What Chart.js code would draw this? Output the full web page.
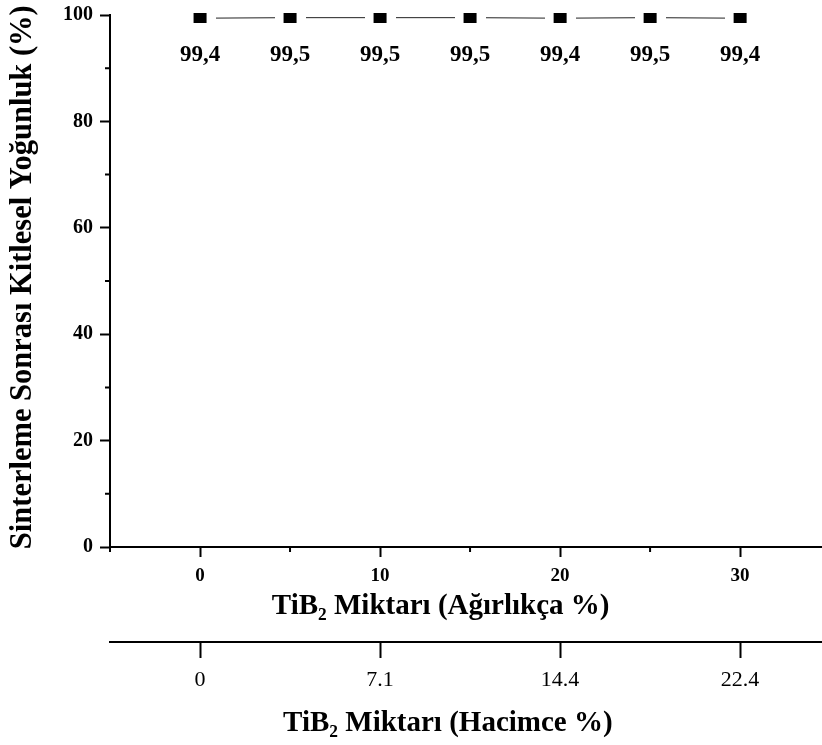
<!DOCTYPE html>
<html>
<head>
<meta charset="utf-8">
<script src="https://cdn.jsdelivr.net/npm/chart.js@4.4.1/dist/chart.umd.min.js"></script>
<style>
  html, body { margin: 0; padding: 0; background: #fff; }
  #wrap { width: 822px; height: 745px; }
</style>
</head>
<body>
<div id="wrap"><canvas id="chart" width="822" height="745"></canvas></div>
<script>
'use strict';
// data
var weightPercent = [0, 5, 10, 15, 20, 25, 30];
var density = [99.4, 99.5, 99.5, 99.5, 99.4, 99.5, 99.4];
var weightTicks = [0, 10, 20, 30];
var volumeTickLabels = ['0', '7.1', '14.4', '22.4'];
var xMinorTicks = [-5, 5, 15, 25];
var yMinorTicks = [10, 30, 50, 70, 90];

var serif = "'Liberation Serif', 'Times New Roman', serif";

// square marker with white margin so the line stops short of it
function makeMarker() {
  var c = document.createElement('canvas');
  c.width = 31;
  c.height = 10;
  var g = c.getContext('2d');
  g.fillStyle = '#fff';
  g.fillRect(0, 0, 31, 10);
  g.fillStyle = '#000';
  g.fillRect(9, 0, 13, 10);
  return c;
}

// minor tick marks (shorter than the labelled ones)
var minorTicks = {
  id: 'minorTicks',
  afterDraw: function(chart) {
    var ctx = chart.ctx;
    var xs = chart.scales.x, ys = chart.scales.y;
    ctx.save();
    ctx.strokeStyle = '#000';
    ctx.lineWidth = 2;
    ctx.beginPath();
    xMinorTicks.forEach(function(v) {
      var px = xs.getPixelForValue(v);
      ctx.moveTo(px, xs.top);
      ctx.lineTo(px, xs.top + 5);
    });
    yMinorTicks.forEach(function(v) {
      var py = ys.getPixelForValue(v);
      ctx.moveTo(ys.right, py);
      ctx.lineTo(ys.right - 5, py);
    });
    ctx.stroke();
    ctx.restore();
  }
};

// value labels under each marker, written with a decimal comma
var valueLabels = {
  id: 'valueLabels',
  afterDatasetsDraw: function(chart) {
    var ctx = chart.ctx;
    var meta = chart.getDatasetMeta(0);
    ctx.save();
    ctx.font = 'bold 23px ' + serif;
    ctx.fillStyle = '#000';
    ctx.textAlign = 'center';
    ctx.textBaseline = 'middle';
    meta.data.forEach(function(pt, i) {
      var txt = density[i].toFixed(1).replace('.', ',');
      ctx.fillText(txt, pt.x, pt.y + 37);
    });
    ctx.restore();
  }
};

function fixX(height) {
  return function(s) {
    s.height = height;
    s.paddingLeft = 0;
    s.paddingRight = 0;
  };
}

var ctx = document.getElementById('chart').getContext('2d');
var chart = new Chart(ctx, {
  type: 'line',
  data: {
    datasets: [{
      data: weightPercent.map(function(w, i) { return {x: w, y: density[i]}; }),
      borderColor: '#222',
      borderWidth: 1,
      pointStyle: makeMarker(),
      pointRadius: 6,
      pointHoverRadius: 6,
      clip: false,
      fill: false
    }]
  },
  options: {
    responsive: false,
    animation: false,
    events: [],
    layout: { autoPadding: false, padding: { top: 15, left: 0, right: 0, bottom: 0 } },
    plugins: {
      legend: { display: false },
      tooltip: { enabled: false }
    },
    scales: {
      x: {
        type: 'linear',
        position: 'bottom',
        weight: 0,
        min: -5,
        max: 34.55,
        afterBuildTicks: function(s) {
          s.ticks = weightTicks.map(function(v) { return {value: v}; });
        },
        afterFit: fixX(95),
        border: { display: true, color: '#000', width: 2 },
        grid: { drawOnChartArea: false, drawTicks: true, tickLength: 10, tickWidth: 2, tickColor: '#000' },
        ticks: { color: '#000', padding: 8, font: { family: serif, size: 19, weight: 'bold' } },
        title: {
          display: true,
          text: 'TiB\u2082 Miktarı (Ağırlıkça %)       ',
          color: '#000',
          font: { family: serif, size: 29, weight: 'bold' },
          padding: { top: 0, bottom: 18 }
        }
      },
      x2: {
        type: 'linear',
        position: 'bottom',
        weight: 1,
        min: -5,
        max: 34.55,
        afterBuildTicks: function(s) {
          s.ticks = weightTicks.map(function(v) { return {value: v}; });
        },
        afterFit: fixX(103),
        border: { display: true, color: '#000', width: 2 },
        grid: { drawOnChartArea: false, drawTicks: true, tickLength: 16, tickWidth: 2, tickColor: '#000' },
        ticks: {
          color: '#000',
          padding: 9,
          font: { family: serif, size: 22 },
          callback: function(v, i) { return volumeTickLabels[i]; }
        },
        title: {
          display: true,
          text: 'TiB\u2082 Miktarı (Hacimce %)     ',
          color: '#000',
          font: { family: serif, size: 29, weight: 'bold' },
          padding: { top: 0, bottom: 4 }
        }
      },
      y: {
        type: 'linear',
        min: 0,
        max: 100,
        afterFit: function(s) {
          s.width = 110;
          s.paddingTop = 0;
          s.paddingBottom = 0;
        },
        border: { display: true, color: '#000', width: 2 },
        grid: { drawOnChartArea: false, drawTicks: true, tickLength: 10, tickWidth: 2, tickColor: '#000' },
        ticks: { stepSize: 20, color: '#000', padding: 7, font: { family: serif, size: 20, weight: 'bold' } },
        title: {
          display: true,
          text: ' Sinterleme Sonrası Kitlesel Yoğunluk (%)',
          color: '#000',
          font: { family: serif, size: 30.5, weight: 'bold' },
          padding: { top: 5, bottom: 0 }
        }
      }
    }
  },
  plugins: [minorTicks, valueLabels]
});
</script>
</body>
</html>
